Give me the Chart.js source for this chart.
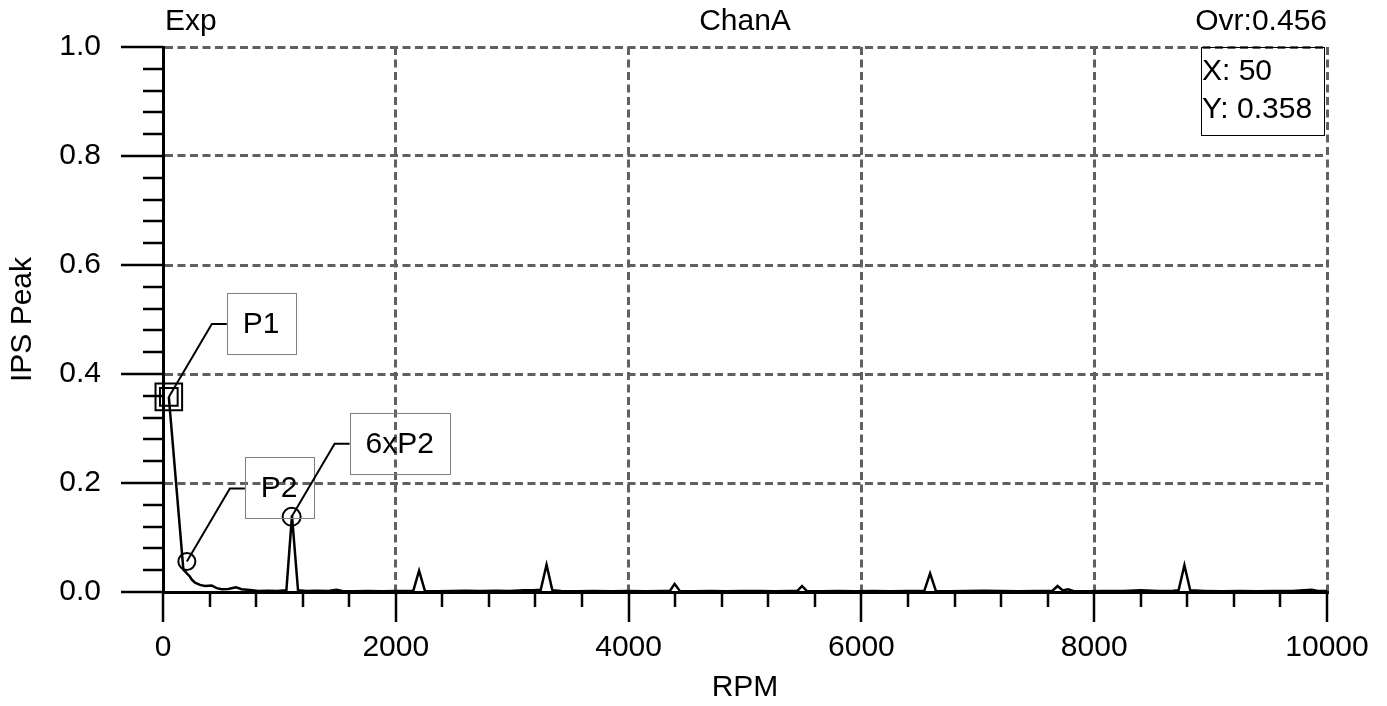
<!DOCTYPE html>
<html>
<head>
<meta charset="utf-8">
<script src="https://cdn.jsdelivr.net/npm/chart.js@4.4.0/dist/chart.umd.min.js"></script>
<style>
html, body { margin: 0; padding: 0; background: #fff; }
</style>
</head>
<body>
<canvas id="mycanvas" width="1387" height="706"></canvas>
<script>
// spectrum
var rpm = [50, 175, 232, 246, 275, 318, 361, 418, 461, 504, 561, 627, 676, 747, 820, 900, 980,
	1060, 1108, 1160, 1230, 1320, 1420, 1490, 1540, 1640, 1760, 1880, 2000, 2100, 2150, 2200, 2250,
	2350, 2480, 2600, 2720, 2860, 2980, 3100, 3180, 3245, 3295, 3345, 3420, 3560, 3700, 3850, 4000,
	4150, 4290, 4355, 4395, 4440, 4560, 4700, 4840, 4980, 5120, 5260, 5380, 5450, 5490, 5530, 5650,
	5800, 5950, 6100, 6250, 6400, 6540, 6590, 6640, 6760, 6900, 7050, 7200, 7350, 7500, 7640, 7685,
	7730, 7775, 7820, 7950, 8080, 8250, 8400, 8550, 8680, 8725, 8775, 8825, 8950, 9100, 9250, 9400,
	9550, 9700, 9870, 9920, 10000];
var ips = [0.358, 0.041, 0.028, 0.023, 0.017, 0.013, 0.011, 0.012, 0.007, 0.005, 0.0055, 0.0085, 0.005, 0.0035, 0.002, 0.0025, 0.002,
	0.003, 0.14, 0.003, 0.002, 0.0025, 0.002, 0.004, 0.002, 0.0015, 0.002, 0.0015, 0.002, 0.002, 0.002, 0.039, 0.002,
	0.0015, 0.002, 0.0025, 0.002, 0.0025, 0.002, 0.003, 0.003, 0.004, 0.05, 0.003, 0.002, 0.0015, 0.002, 0.0015, 0.002,
	0.0015, 0.002, 0.002, 0.015, 0.002, 0.0015, 0.002, 0.0015, 0.002, 0.002, 0.0015, 0.002, 0.002, 0.011, 0.002, 0.0015,
	0.002, 0.0015, 0.002, 0.0015, 0.002, 0.002, 0.034, 0.002, 0.0015, 0.002, 0.0025, 0.002, 0.0015, 0.002, 0.002, 0.011,
	0.003, 0.005, 0.002, 0.0015, 0.002, 0.002, 0.003, 0.002, 0.0025, 0.003, 0.049, 0.003, 0.002, 0.0015, 0.002, 0.0015,
	0.002, 0.002, 0.004, 0.002, 0.002];

// marked peaks
var markerLabels = ["P1", "P2", "6xP2"];
var markerRpm = [50, 205, 1105];
var markerIps = [0.358, 0.056, 0.138];

var topLeftText = "Exp";
var titleText = "ChanA";
var topRightText = "Ovr:0.456";
var cursorText = ["X: 50", "Y: 0.358"];
var xTitle = "RPM";
var yTitle = "IPS Peak";

var FONT = "'Liberation Sans', Arial, sans-serif";
var FSIZE = 30;

var spectrum = [];
for (var i = 0; i < rpm.length; i++) {
	spectrum.push({x: rpm[i], y: ips[i]});
}
var marks = [];
for (var j = 0; j < markerRpm.length; j++) {
	marks.push({x: markerRpm[j], y: markerIps[j]});
}

function isMajorX(v) { return Math.round(v) % 2000 === 0; }
function isMajorY(v) { return Math.round(v * 100) % 20 === 0; }

var decorPlugin = {
	id: 'decor',
	afterDraw: function(chart) {
		var ctx = chart.ctx;
		var xs = chart.scales.x;
		var ys = chart.scales.y;
		var a = chart.chartArea;
		ctx.save();

		// tick marks, long ones at the labelled values
		ctx.strokeStyle = "#000";
		ctx.lineWidth = 2.5;
		xs.ticks.forEach(function(t) {
			var px = Math.round(xs.getPixelForValue(t.value));
			var len = isMajorX(t.value) ? 30 : 15;
			ctx.beginPath();
			ctx.moveTo(px, a.bottom);
			ctx.lineTo(px, a.bottom + len);
			ctx.stroke();
		});
		ys.ticks.forEach(function(t) {
			var py = Math.round(ys.getPixelForValue(t.value));
			var len = isMajorY(t.value) ? 42 : 20;
			ctx.beginPath();
			ctx.moveTo(a.left, py);
			ctx.lineTo(a.left - len, py);
			ctx.stroke();
		});

		// header texts
		ctx.fillStyle = "#000";
		ctx.font = FSIZE + "px " + FONT;
		ctx.textBaseline = "alphabetic";
		ctx.textAlign = "left";
		ctx.fillText(topLeftText, a.left + 2, 30);
		ctx.textAlign = "center";
		ctx.fillText(titleText, (a.left + a.right) / 2, 30);
		ctx.textAlign = "right";
		ctx.fillText(topRightText, a.right, 30);

		// cursor readout box
		ctx.lineWidth = 1;
		ctx.strokeStyle = "#000";
		ctx.strokeRect(1201.5, a.top + 0.5, 123, 88);
		ctx.textAlign = "left";
		ctx.fillText(cursorText[0], 1202, 80);
		ctx.fillText(cursorText[1], 1202, 118);

		// peak labels with leader lines
		for (var k = 0; k < markerLabels.length; k++) {
			var ax = xs.getPixelForValue(markerRpm[k]);
			var ay = ys.getPixelForValue(markerIps[k]);
			var tw = ctx.measureText(markerLabels[k]).width;
			var bx = ax + 58, by = ay - 104, bw = tw + 32, bh = 61;
			ctx.strokeStyle = "#000";
			ctx.lineWidth = 2;
			ctx.beginPath();
			ctx.moveTo(ax, ay);
			ctx.lineTo(ax + 43, ay - 73);
			ctx.lineTo(bx, ay - 73);
			ctx.stroke();
			ctx.strokeStyle = "#808080";
			ctx.lineWidth = 1;
			ctx.strokeRect(Math.round(bx) + 0.5, Math.round(by) + 0.5, Math.round(bw), bh);
			ctx.textAlign = "center";
			ctx.textBaseline = "middle";
			ctx.fillText(markerLabels[k], bx + bw / 2, by + bh / 2 + 1);
			ctx.textBaseline = "alphabetic";
		}
		ctx.restore();
	}
};

Chart.defaults.font.family = FONT;
Chart.defaults.font.size = FSIZE;
Chart.defaults.color = "#000";

var ctx = document.getElementById("mycanvas");

var LineGraph = new Chart(ctx, {
	type: 'scatter',
	data: {
		datasets: [
			{
				label: "spectrum",
				data: spectrum,
				showLine: true,
				borderColor: "#000",
				borderWidth: 2.5,
				pointRadius: 0,
				tension: 0
			},
			{
				label: "markers",
				data: marks,
				showLine: false,
				pointStyle: ['rect', 'circle', 'circle'],
				pointRadius: [18.8, 8.5, 9],
				borderColor: "#000",
				borderWidth: 2,
				backgroundColor: "rgba(0,0,0,0)",
				clip: false
			},
			{
				label: "inner",
				data: [marks[0]],
				showLine: false,
				pointStyle: 'rect',
				pointRadius: 12.5,
				borderColor: "#000",
				borderWidth: 2,
				backgroundColor: "rgba(0,0,0,0)",
				clip: false
			}
		]
	},
	options: {
		responsive: false,
		animation: false,
		devicePixelRatio: 1,
		events: [],
		layout: { padding: { top: 47, right: 60, left: 0, bottom: 0 } },
		plugins: {
			legend: { display: false },
			tooltip: { enabled: false }
		},
		scales: {
			x: {
				type: 'linear',
				min: 0,
				max: 10000,
				afterFit: function(s) {
					s.height = 114;
					s.paddingLeft = 0;
					s.paddingRight = 0;
				},
				border: { display: true, color: "#000", width: 3, dash: [8, 4.5] },
				grid: {
					drawTicks: false,
					lineWidth: 3,
					color: function(c) {
						if (!c.tick || c.tick.value === 0 || !isMajorX(c.tick.value)) return "rgba(0,0,0,0)";
						return "#606060";
					}
				},
				ticks: {
					stepSize: 400,
					autoSkip: false,
					maxRotation: 0,
					padding: 38,
					callback: function(v) { return isMajorX(v) ? String(Math.round(v)) : ""; }
				},
				title: { display: true, text: xTitle, padding: { top: 0, bottom: 0 } }
			},
			y: {
				type: 'linear',
				min: 0,
				max: 1,
				afterFit: function(s) {
					s.width = 163;
					s.paddingTop = 0;
					s.paddingBottom = 0;
				},
				border: { display: true, color: "#000", width: 3, dash: [8, 4.5] },
				grid: {
					drawTicks: false,
					lineWidth: 3,
					color: function(c) {
						if (!c.tick || c.tick.value === 0 || !isMajorY(c.tick.value)) return "rgba(0,0,0,0)";
						return "#606060";
					}
				},
				ticks: {
					stepSize: 0.04,
					autoSkip: false,
					padding: 62,
					callback: function(v) { return isMajorY(v) ? v.toFixed(1) : ""; }
				},
				title: { display: true, text: yTitle, padding: { top: 5, bottom: 0 } }
			}
		}
	},
	plugins: [decorPlugin]
});
</script>
</body>
</html>
